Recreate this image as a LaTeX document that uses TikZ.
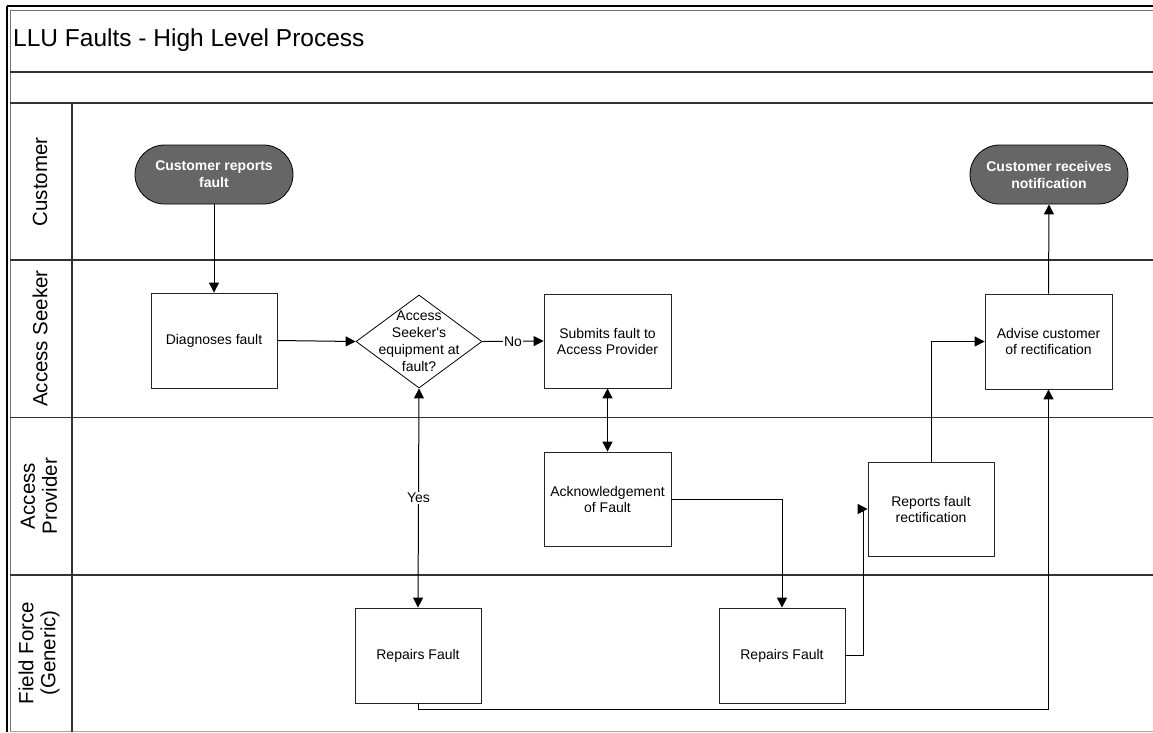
\documentclass[tikz,border=0pt]{standalone}
\usepackage{fontspec}
\setmainfont{Liberation Sans}
\usetikzlibrary{shapes.geometric,arrows.meta}
\definecolor{termfill}{RGB}{102,102,102}
\definecolor{rulegray}{RGB}{50,50,50}
\tikzset{
  stepbox/.style={draw=black!85, line width=0.8pt, minimum width=126pt, minimum height=95pt,
    inner sep=0pt, align=center, font=\fontsize{14}{16}\selectfont},
  termbox/.style={draw=black, line width=0.8pt, fill=termfill, text=white,
    minimum width=158pt, minimum height=59pt, rounded corners=29.5pt, inner sep=0pt,
    align=center, font=\fontsize{14}{17}\selectfont\bfseries},
  decbox/.style={diamond, draw=black, line width=0.8pt, minimum width=126pt,
    minimum height=93pt, inner sep=0pt},
  dectext/.style={align=center, font=\fontsize{14}{17}\selectfont, inner sep=0pt},
  flow/.style={line width=1pt, -{Triangle[length=10pt,width=10pt]}},
  twoway/.style={line width=1pt, {Triangle[length=10pt,width=10pt]}-{Triangle[length=10pt,width=10pt]}},
  flowlabel/.style={fill=white, inner xsep=1.5pt, inner ysep=1pt, font=\fontsize{14}{16}\selectfont},
  lanelabel/.style={rotate=90, align=center, font=\fontsize{20.5}{22}\selectfont},
  lanerule/.style={draw=rulegray, line width=1.1pt}
}
\begin{document}
\begin{tikzpicture}[x=1pt, y=-1pt]
\useasboundingbox (0,0) rectangle (1153,732);

% outer frame
\draw[line width=2pt] (7,6) -- (1153,6);
\draw[line width=2pt] (7,6) -- (7,732);
\draw[draw=black!55, line width=0.8pt] (10,10) -- (1153,10);
\draw[draw=black!55, line width=0.8pt] (10,10) -- (10,732);
\draw[draw=black!35, line width=1pt] (10,731.5) -- (1153,731.5);

% title and header rows
\node[anchor=west, inner sep=0pt, font=\fontsize{24.5}{26}\selectfont] (title) at (13,40) {LLU Faults - High Level Process};
\draw[lanerule] (10,72) -- (1153,72);
\draw[lanerule] (10,103) -- (1153,103);

% swimlanes
\draw[lanerule] (10,260) -- (1153,260);
\draw[lanerule] (10,417.5) -- (1153,417.5);
\draw[lanerule] (10,575) -- (1153,575);
\draw[lanerule] (72,103) -- (72,731.5);

\node[lanelabel] (laneA) at (40,182) {Customer};
\node[lanelabel] (laneB) at (40,338.5) {Access Seeker};
\node[lanelabel] (laneC) at (39,496) {Access\\Provider};
\node[lanelabel] (laneD) at (39,653) {Field Force\\(Generic)};

% process steps
\node[termbox] (cust) at (214,174.5) {Customer reports\\fault};
\node[termbox] (recv) at (1049,174.5) {Customer receives\\notification};

\node[stepbox] (diag) at (214,340.5) {Diagnoses fault};
\node[decbox] (dec) at (419,341.5) {};
\node[dectext] (dectxt) at (419,341.5) {Access\\Seeker\textquotesingle s\\equipment at\\fault?};
\node[stepbox, minimum width=127pt, minimum height=94pt] (sub) at (607.5,341) {Submits fault to\\Access Provider};
\node[stepbox, minimum width=127pt] (adv) at (1048.5,341.5) {Advise customer\\of rectification};

\node[stepbox, minimum width=127pt, minimum height=94pt] (ack) at (607.5,499) {Acknowledgement\\of Fault};
\node[stepbox, minimum height=94pt] (rpt) at (931,509) {Reports fault\\rectification};

\node[stepbox] (rep1) at (418,655.5) {Repairs Fault};
\node[stepbox] (rep2) at (782,655.5) {Repairs Fault};

% connectors
\draw[flow] (cust.south) -- (diag.north);
\draw[flow] (diag.east) -- (dec.west);
\draw[flow] (dec.east) -- node[flowlabel] {No} (sub.west);
\draw[twoway] (dec.south) -- node[flowlabel] {Yes} (rep1.north);
\draw[twoway] (sub.south) -- (ack.north);
\draw[flow] (ack.east) -| (rep2.north);
\draw[flow] (rep2.east) -- ++(18,0) |- (rpt.west);
\draw[flow] (rpt.north) |- (adv.west);
\draw[flow] (adv.north) -- (recv.south);
\draw[flow] (rep1.south) -- ++(0,6) -| (adv.south);
\end{tikzpicture}
\end{document}
